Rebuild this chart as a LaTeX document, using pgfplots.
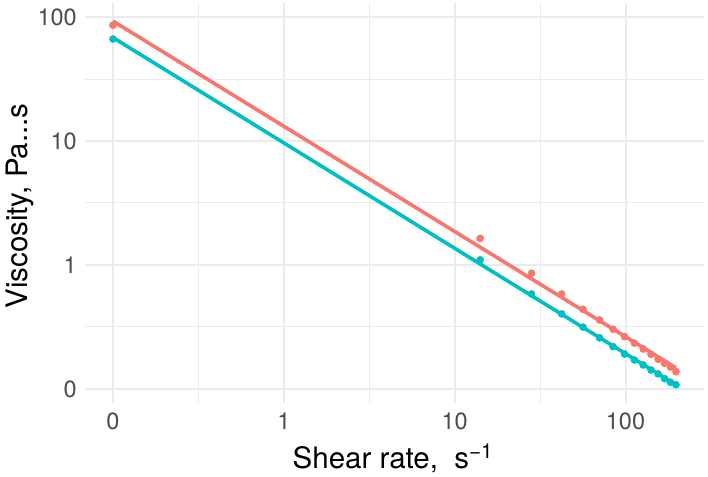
\documentclass[border=0pt]{standalone}
\usepackage{fontspec}
\setmainfont{TeX Gyre Heros}
\usepackage{pgfplots}
\pgfplotsset{compat=1.18}
\definecolor{gridc}{RGB}{235,235,235}
\definecolor{tickc}{RGB}{77,77,77}
\definecolor{redc}{HTML}{F8766D}
\definecolor{cyanc}{HTML}{00BFC4}
\begin{document}
\begin{tikzpicture}
\path[use as bounding box] (-85pt,-73pt) rectangle (623pt,403pt);
\begin{axis}[
 scale only axis, width=619pt, height=400pt,
 xmode=log, ymode=log,
 xmin=0.0686, xmax=288, ymin=0.0769, ymax=130,
 axis line style={draw=none},
 tick style={draw=none},
 xtick={0.1,1,10,100}, xticklabels={0,1,10,100},
 ytick={0.1,1,10,100}, yticklabels={0,1,10,100},
 minor xtick={0.316228,3.16228,31.6228},
 minor ytick={0.316228,3.16228,31.6228},
 grid=both,
 major grid style={gridc, line width=2pt},
 minor grid style={gridc, line width=1pt},
 ticklabel style={font=\fontsize{23.5}{24}\selectfont, text=tickc, inner sep=0pt},
 xticklabel style={anchor=north, yshift=-10pt},
 yticklabel style={anchor=east, xshift=-8pt},
 xlabel={Shear rate,\ \ s\textsuperscript{−1}},
 ylabel={Viscosity, Pa...s},
 label style={font=\fontsize{29.5}{30}\selectfont, inner sep=0pt},
 xlabel style={at={(axis description cs:0.4975,-0.1625)}, anchor=base},
 ylabel style={at={(axis description cs:-0.0929,0.4925)}, anchor=base},
]
\addplot[only marks, mark=*, mark size=3.6pt, color=redc] table {
x y
0.1 86
14.1 1.64
28.2 0.857
42.3 0.583
56.4 0.439
70.5 0.360
84.6 0.303
98.7 0.264
112.8 0.234
126.9 0.210
141.0 0.190
155.1 0.173
169.2 0.161
183.3 0.150
197.4 0.138
};
\addplot[only marks, mark=*, mark size=3.6pt, color=cyanc] table {
x y
0.1 66.6
14.1 1.10
28.2 0.583
42.3 0.403
56.4 0.315
70.5 0.258
84.6 0.219
98.7 0.191
112.8 0.171
126.9 0.156
141.0 0.142
155.1 0.132
169.2 0.121
183.3 0.113
197.4 0.108
};
\addplot[redc, line width=3.6pt] coordinates {(0.1,93) (197.4,0.148)};
\addplot[cyanc, line width=3.6pt] coordinates {(0.1,68.4) (197.4,0.108)};
\end{axis}
\end{tikzpicture}
\end{document}
